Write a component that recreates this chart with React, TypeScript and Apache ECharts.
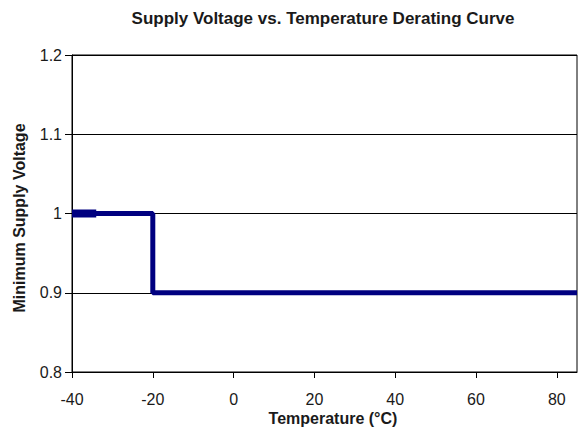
import React, { useEffect, useRef } from "react";
import * as echarts from "echarts";

const temps = [-40, -20, -20, 85];
const voltages = [1.0, 1.0, 0.9, 0.9];
const startTemps = [-40, -34];
const startVoltages = [1.0, 1.0];

const FONT = "'Liberation Sans', Arial, sans-serif";
const TEXT = "#1a1a1a";

export default function App() {
  const ref = useRef<HTMLDivElement>(null);
  useEffect(() => {
    if (!ref.current) return;
    const chart = echarts.init(ref.current, null, { renderer: "svg" });
    chart.setOption({
      animation: false,
      backgroundColor: "#fff",
      grid: {
        left: 72,
        right: 4,
        top: 55,
        bottom: 58,
        show: true,
        borderColor: "#000",
        borderWidth: 1,
        backgroundColor: "transparent",
      },
      xAxis: {
        type: "value",
        min: -40,
        max: 85,
        interval: 20,
        axisLine: { show: true, onZero: false, lineStyle: { color: "#000", width: 1 } },
        axisTick: { show: true, inside: false, length: 6, lineStyle: { color: "#000" } },
        axisLabel: { fontFamily: FONT, fontSize: 16, color: TEXT, margin: 19, showMaxLabel: false },
        splitLine: { show: false },
      },
      yAxis: {
        type: "value",
        min: 0.8,
        max: 1.2,
        interval: 0.1,
        axisLine: { show: true, onZero: false, lineStyle: { color: "#000", width: 1 } },
        axisTick: { show: true, inside: false, length: 7, lineStyle: { color: "#000" } },
        axisLabel: { fontFamily: FONT, fontSize: 16, color: TEXT, margin: 10 },
        splitLine: { show: true, lineStyle: { color: "#000", width: 1 } },
      },
      graphic: [
        {
          type: "text",
          x: 323,
          y: 18,
          style: {
            text: "Supply Voltage vs. Temperature Derating Curve",
            fontFamily: FONT,
            fontSize: 17,
            fontWeight: "bold",
            fill: TEXT,
            align: "center",
            verticalAlign: "middle",
          },
        },
        {
          type: "text",
          x: 333,
          y: 418,
          style: {
            text: "Temperature (°C)",
            fontFamily: FONT,
            fontSize: 16,
            fontWeight: "bold",
            fill: TEXT,
            align: "center",
            verticalAlign: "middle",
          },
        },
        {
          type: "text",
          x: 19,
          y: 218,
          rotation: Math.PI / 2,
          style: {
            text: "Minimum Supply Voltage",
            fontFamily: FONT,
            fontSize: 16,
            fontWeight: "bold",
            fill: TEXT,
            align: "center",
            verticalAlign: "middle",
          },
        },
      ],
      series: [
        {
          type: "line",
          data: temps.map((t, i) => [t, voltages[i]]),
          showSymbol: false,
          lineStyle: { color: "#000080", width: 5 },
          z: 3,
        },
        {
          type: "line",
          data: startTemps.map((t, i) => [t, startVoltages[i]]),
          showSymbol: false,
          lineStyle: { color: "#000080", width: 8 },
          z: 4,
        },
      ],
    });
    return () => chart.dispose();
  }, []);
  return <div ref={ref} style={{ width: 581, height: 430, position: "absolute", left: 0, top: 0 }} />;
}
